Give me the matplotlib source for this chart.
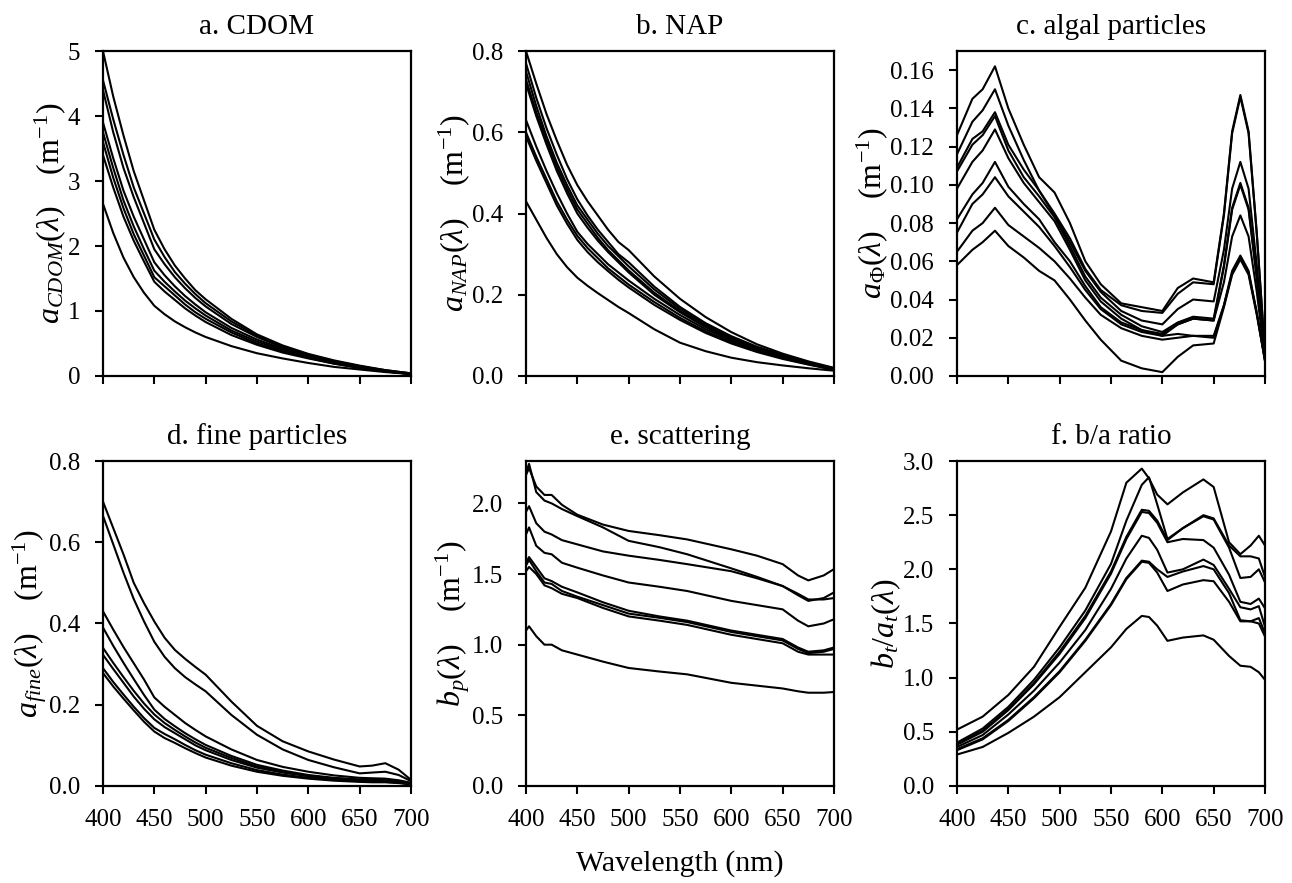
"""Six-panel spectra figure: absorption, scattering and b/a ratio vs wavelength."""

import matplotlib

matplotlib.use("Agg")
import matplotlib.pyplot as plt
from matplotlib.ticker import FormatStrFormatter, MultipleLocator

plt.rcParams["font.family"] = ["Liberation Serif", "DejaVu Serif"]
plt.rcParams["mathtext.fontset"] = "custom"
plt.rcParams["mathtext.rm"] = "Liberation Serif"
plt.rcParams["mathtext.it"] = "Liberation Serif:italic"
plt.rcParams["mathtext.bf"] = "Liberation Serif:bold"

# ---- a. CDOM -------------------------------------------------------------
wl_cdom = [400, 410, 420, 430, 440, 450, 460, 470, 480, 490, 500,
           525, 550, 575, 600, 625, 650, 675, 700]
cdom = [
    [5.00, 4.30, 3.70, 3.15, 2.70, 2.25, 1.95, 1.70, 1.50, 1.32, 1.18, 0.88, 0.64, 0.47, 0.34, 0.24, 0.16, 0.09, 0.04],
    [4.55, 3.95, 3.40, 2.90, 2.50, 2.10, 1.83, 1.60, 1.42, 1.26, 1.12, 0.84, 0.62, 0.45, 0.33, 0.23, 0.15, 0.09, 0.04],
    [4.40, 3.75, 3.20, 2.75, 2.35, 1.95, 1.72, 1.52, 1.35, 1.20, 1.07, 0.80, 0.60, 0.44, 0.32, 0.22, 0.15, 0.08, 0.04],
    [3.90, 3.35, 2.85, 2.45, 2.10, 1.75, 1.55, 1.38, 1.23, 1.10, 0.98, 0.74, 0.56, 0.42, 0.30, 0.21, 0.14, 0.08, 0.03],
    [3.75, 3.20, 2.70, 2.30, 1.95, 1.62, 1.45, 1.30, 1.16, 1.04, 0.93, 0.70, 0.53, 0.40, 0.29, 0.20, 0.13, 0.07, 0.03],
    [3.60, 3.05, 2.58, 2.18, 1.85, 1.52, 1.38, 1.24, 1.10, 0.98, 0.88, 0.67, 0.50, 0.38, 0.28, 0.19, 0.13, 0.07, 0.03],
    [3.40, 2.90, 2.45, 2.08, 1.76, 1.45, 1.30, 1.17, 1.04, 0.93, 0.83, 0.63, 0.48, 0.36, 0.27, 0.19, 0.12, 0.07, 0.03],
    [2.65, 2.20, 1.82, 1.52, 1.28, 1.08, 0.95, 0.84, 0.75, 0.67, 0.60, 0.46, 0.35, 0.27, 0.20, 0.14, 0.10, 0.06, 0.03],
]

# ---- b. NAP --------------------------------------------------------------
wl_nap = wl_cdom
nap = [
    [0.800, 0.720, 0.645, 0.580, 0.520, 0.470, 0.430, 0.395, 0.360, 0.330, 0.310, 0.245, 0.190, 0.145, 0.108, 0.078, 0.055, 0.036, 0.020],
    [0.770, 0.685, 0.610, 0.545, 0.485, 0.435, 0.395, 0.360, 0.330, 0.300, 0.280, 0.220, 0.170, 0.130, 0.098, 0.072, 0.052, 0.034, 0.019],
    [0.750, 0.665, 0.590, 0.525, 0.470, 0.420, 0.385, 0.350, 0.320, 0.295, 0.270, 0.213, 0.165, 0.127, 0.095, 0.070, 0.050, 0.033, 0.018],
    [0.730, 0.650, 0.580, 0.515, 0.460, 0.410, 0.375, 0.340, 0.310, 0.285, 0.260, 0.205, 0.160, 0.123, 0.092, 0.068, 0.049, 0.032, 0.018],
    [0.720, 0.640, 0.570, 0.505, 0.450, 0.400, 0.365, 0.333, 0.305, 0.280, 0.255, 0.200, 0.157, 0.120, 0.090, 0.066, 0.048, 0.031, 0.017],
    [0.630, 0.565, 0.505, 0.450, 0.400, 0.355, 0.325, 0.300, 0.275, 0.255, 0.235, 0.190, 0.150, 0.115, 0.087, 0.064, 0.046, 0.030, 0.016],
    [0.600, 0.540, 0.485, 0.430, 0.385, 0.345, 0.315, 0.290, 0.265, 0.245, 0.225, 0.182, 0.143, 0.110, 0.083, 0.061, 0.044, 0.029, 0.016],
    [0.590, 0.530, 0.475, 0.420, 0.375, 0.335, 0.305, 0.280, 0.258, 0.237, 0.218, 0.175, 0.138, 0.106, 0.080, 0.059, 0.042, 0.028, 0.015],
    [0.430, 0.385, 0.340, 0.300, 0.268, 0.242, 0.222, 0.204, 0.187, 0.170, 0.155, 0.115, 0.082, 0.061, 0.045, 0.034, 0.026, 0.019, 0.013],
]

# ---- c. algal particles --------------------------------------------------
wl_phy = [400, 415, 425, 437, 450, 465, 480, 495, 510, 525, 540, 560,
          580, 600, 615, 630, 650, 660, 668, 676, 684, 692, 700]
phy = [
    [0.126, 0.145, 0.150, 0.162, 0.140, 0.121, 0.104, 0.096, 0.080, 0.060, 0.048, 0.038, 0.036, 0.034, 0.046, 0.051, 0.049, 0.085, 0.128, 0.147, 0.128, 0.075, 0.012],
    [0.116, 0.133, 0.139, 0.150, 0.131, 0.113, 0.097, 0.085, 0.072, 0.056, 0.045, 0.037, 0.034, 0.033, 0.043, 0.049, 0.048, 0.084, 0.127, 0.146, 0.127, 0.074, 0.012],
    [0.109, 0.124, 0.128, 0.138, 0.121, 0.108, 0.097, 0.084, 0.070, 0.055, 0.044, 0.034, 0.029, 0.027, 0.035, 0.040, 0.039, 0.066, 0.098, 0.112, 0.098, 0.058, 0.011],
    [0.107, 0.121, 0.126, 0.136, 0.118, 0.104, 0.094, 0.083, 0.068, 0.052, 0.041, 0.032, 0.026, 0.023, 0.028, 0.031, 0.030, 0.058, 0.088, 0.101, 0.088, 0.052, 0.010],
    [0.098, 0.112, 0.118, 0.129, 0.114, 0.101, 0.091, 0.081, 0.066, 0.050, 0.039, 0.030, 0.024, 0.021, 0.027, 0.030, 0.029, 0.057, 0.087, 0.100, 0.087, 0.051, 0.010],
    [0.082, 0.095, 0.101, 0.112, 0.099, 0.090, 0.082, 0.070, 0.060, 0.047, 0.036, 0.028, 0.024, 0.022, 0.027, 0.030, 0.029, 0.049, 0.073, 0.084, 0.073, 0.044, 0.009],
    [0.075, 0.090, 0.095, 0.104, 0.094, 0.086, 0.078, 0.068, 0.057, 0.045, 0.035, 0.027, 0.023, 0.021, 0.022, 0.021, 0.020, 0.037, 0.055, 0.063, 0.055, 0.033, 0.008],
    [0.065, 0.076, 0.080, 0.088, 0.079, 0.073, 0.067, 0.060, 0.051, 0.041, 0.032, 0.025, 0.021, 0.019, 0.020, 0.021, 0.021, 0.037, 0.054, 0.062, 0.054, 0.033, 0.008],
    [0.058, 0.066, 0.070, 0.076, 0.068, 0.062, 0.055, 0.050, 0.040, 0.029, 0.019, 0.008, 0.004, 0.002, 0.010, 0.016, 0.017, 0.036, 0.053, 0.061, 0.053, 0.032, 0.008],
]

# ---- d. fine particles ---------------------------------------------------
wl_fine = [400, 410, 420, 430, 440, 450, 460, 470, 480, 490, 500,
           525, 550, 575, 600, 625, 650, 662, 675, 688, 700]
fine = [
    [0.700, 0.635, 0.570, 0.500, 0.450, 0.405, 0.365, 0.335, 0.313, 0.293, 0.274, 0.208, 0.148, 0.110, 0.085, 0.065, 0.048, 0.050, 0.056, 0.040, 0.015],
    [0.665, 0.595, 0.525, 0.460, 0.405, 0.355, 0.318, 0.290, 0.268, 0.250, 0.233, 0.175, 0.126, 0.090, 0.064, 0.046, 0.031, 0.033, 0.035, 0.027, 0.012],
    [0.430, 0.385, 0.342, 0.302, 0.262, 0.218, 0.195, 0.175, 0.155, 0.138, 0.122, 0.090, 0.064, 0.047, 0.035, 0.026, 0.020, 0.019, 0.018, 0.014, 0.008],
    [0.390, 0.345, 0.303, 0.263, 0.224, 0.188, 0.165, 0.147, 0.130, 0.115, 0.101, 0.074, 0.052, 0.038, 0.027, 0.020, 0.016, 0.015, 0.014, 0.011, 0.006],
    [0.340, 0.303, 0.268, 0.234, 0.203, 0.176, 0.155, 0.138, 0.122, 0.107, 0.094, 0.069, 0.048, 0.035, 0.025, 0.019, 0.015, 0.014, 0.013, 0.010, 0.005],
    [0.323, 0.288, 0.254, 0.220, 0.190, 0.164, 0.145, 0.130, 0.115, 0.100, 0.088, 0.064, 0.045, 0.033, 0.024, 0.018, 0.014, 0.013, 0.012, 0.009, 0.005],
    [0.290, 0.256, 0.225, 0.195, 0.167, 0.143, 0.128, 0.115, 0.101, 0.088, 0.077, 0.056, 0.039, 0.028, 0.020, 0.015, 0.012, 0.011, 0.010, 0.008, 0.004],
    [0.278, 0.245, 0.215, 0.186, 0.158, 0.134, 0.118, 0.106, 0.093, 0.081, 0.070, 0.050, 0.035, 0.025, 0.018, 0.013, 0.010, 0.009, 0.009, 0.007, 0.004],
]

# ---- e. scattering -------------------------------------------------------
wl_bp = [400, 403, 410, 418, 425, 435, 450, 475, 500, 530, 557, 600,
         625, 650, 665, 675, 690, 700]
bp = [
    [2.20, 2.25, 2.12, 2.06, 2.06, 1.99, 1.92, 1.85, 1.805, 1.775, 1.745, 1.675, 1.63, 1.57, 1.49, 1.455, 1.49, 1.535],
    [2.22, 2.28, 2.08, 2.02, 2.00, 1.96, 1.91, 1.83, 1.735, 1.69, 1.64, 1.54, 1.48, 1.415, 1.35, 1.31, 1.33, 1.37],
    [1.94, 1.98, 1.86, 1.80, 1.78, 1.74, 1.71, 1.66, 1.63, 1.60, 1.57, 1.52, 1.47, 1.415, 1.36, 1.32, 1.32, 1.33],
    [1.78, 1.83, 1.70, 1.65, 1.64, 1.58, 1.545, 1.49, 1.44, 1.41, 1.38, 1.31, 1.28, 1.25, 1.17, 1.13, 1.15, 1.18],
    [1.58, 1.62, 1.55, 1.47, 1.45, 1.41, 1.37, 1.30, 1.24, 1.20, 1.17, 1.10, 1.07, 1.04, 0.98, 0.95, 0.96, 0.98],
    [1.56, 1.60, 1.52, 1.44, 1.43, 1.38, 1.34, 1.28, 1.22, 1.19, 1.16, 1.09, 1.06, 1.03, 0.97, 0.94, 0.95, 0.97],
    [1.52, 1.55, 1.50, 1.42, 1.40, 1.36, 1.33, 1.26, 1.20, 1.17, 1.14, 1.07, 1.04, 1.01, 0.95, 0.93, 0.93, 0.93],
    [1.10, 1.13, 1.06, 1.00, 1.00, 0.96, 0.93, 0.88, 0.835, 0.81, 0.79, 0.73, 0.71, 0.69, 0.67, 0.66, 0.66, 0.665],
]

# ---- f. b/a ratio --------------------------------------------------------
wl_ratio = [400, 425, 450, 475, 500, 525, 550, 565, 580, 587, 595, 605,
            620, 640, 650, 665, 676, 686, 694, 700]
ratio = [
    [0.52, 0.64, 0.84, 1.10, 1.47, 1.83, 2.35, 2.80, 2.93, 2.84, 2.69, 2.60, 2.71, 2.83, 2.76, 2.25, 2.14, 2.22, 2.31, 2.22],
    [0.40, 0.53, 0.73, 0.98, 1.28, 1.62, 2.05, 2.45, 2.78, 2.85, 2.60, 2.28, 2.38, 2.50, 2.47, 2.22, 2.12, 2.12, 2.10, 1.93],
    [0.39, 0.51, 0.71, 0.95, 1.24, 1.57, 1.98, 2.30, 2.55, 2.54, 2.45, 2.27, 2.38, 2.49, 2.46, 2.20, 1.92, 1.93, 2.00, 1.88],
    [0.38, 0.50, 0.70, 0.94, 1.22, 1.55, 1.96, 2.28, 2.53, 2.52, 2.43, 2.25, 2.28, 2.27, 2.20, 1.95, 1.70, 1.68, 1.73, 1.64],
    [0.36, 0.47, 0.66, 0.88, 1.14, 1.44, 1.82, 2.10, 2.31, 2.29, 2.18, 1.97, 2.00, 2.09, 2.04, 1.82, 1.65, 1.63, 1.66, 1.47],
    [0.34, 0.44, 0.61, 0.82, 1.06, 1.35, 1.68, 1.92, 2.08, 2.07, 2.00, 1.93, 1.98, 2.03, 2.00, 1.78, 1.53, 1.52, 1.55, 1.41],
    [0.33, 0.43, 0.60, 0.81, 1.05, 1.34, 1.67, 1.91, 2.07, 2.06, 1.97, 1.80, 1.86, 1.90, 1.89, 1.70, 1.52, 1.52, 1.50, 1.38],
    [0.29, 0.36, 0.49, 0.64, 0.82, 1.05, 1.28, 1.45, 1.57, 1.56, 1.48, 1.34, 1.37, 1.39, 1.35, 1.20, 1.11, 1.10, 1.05, 0.98],
]

titles = ["a. CDOM", "b. NAP", "c. algal particles",
          "d. fine particles", "e. scattering", "f. b/a ratio"]
ylabels = [
    r"$a_{CDOM}(\lambda)$    (m$^{-1}$)",
    r"$a_{NAP}(\lambda)$    (m$^{-1}$)",
    r"$a_{\Phi}(\lambda)$    (m$^{-1}$)",
    r"$a_{fine}(\lambda)$    (m$^{-1}$)",
    r"$b_{p}(\lambda)$    (m$^{-1}$)",
    r"$b_{t}/a_{t}(\lambda)$",
]
panels = [
    (wl_cdom, cdom, 5.0, 1.0, "%d"),
    (wl_nap, nap, 0.8, 0.2, "%.1f"),
    (wl_phy, phy, 0.17, 0.02, "%.2f"),
    (wl_fine, fine, 0.8, 0.2, "%.1f"),
    (wl_bp, bp, 2.3, 0.5, "%.1f"),
    (wl_ratio, ratio, 3.0, 0.5, "%.1f"),
]

fig = plt.figure(figsize=(12.92, 8.83), dpi=100)
lefts = [0.0797, 0.4071, 0.7407]
bottoms = [0.5742, 0.1099]
width, height = 0.2384, 0.368

for i, (wl, curves, ytop, ystep, fmt) in enumerate(panels):
    row, col = divmod(i, 3)
    ax = fig.add_axes([lefts[col], bottoms[row], width, height])
    for spec in curves:
        ax.plot(wl, spec, color="black", lw=1.5)
    ax.set_xlim(400, 700)
    ax.set_ylim(0, ytop)
    ax.xaxis.set_major_locator(MultipleLocator(50))
    ax.yaxis.set_major_locator(MultipleLocator(ystep))
    ax.yaxis.set_major_formatter(FormatStrFormatter(fmt))
    ax.tick_params(direction="out", length=5.5, width=1.5, labelsize=18,
                   pad=11, top=False, right=False)
    if row == 0:
        ax.tick_params(axis="x", labelbottom=False)
    for sp in ax.spines.values():
        sp.set_linewidth(1.6)
    ax.set_title(titles[i], fontsize=21, pad=12)
    ax.set_ylabel(ylabels[i], fontsize=23, labelpad=0)

fig.text(0.526, 0.0215, "Wavelength (nm)", ha="center", va="center",
         fontsize=21.5)

fig.savefig("out.png", dpi=100)
